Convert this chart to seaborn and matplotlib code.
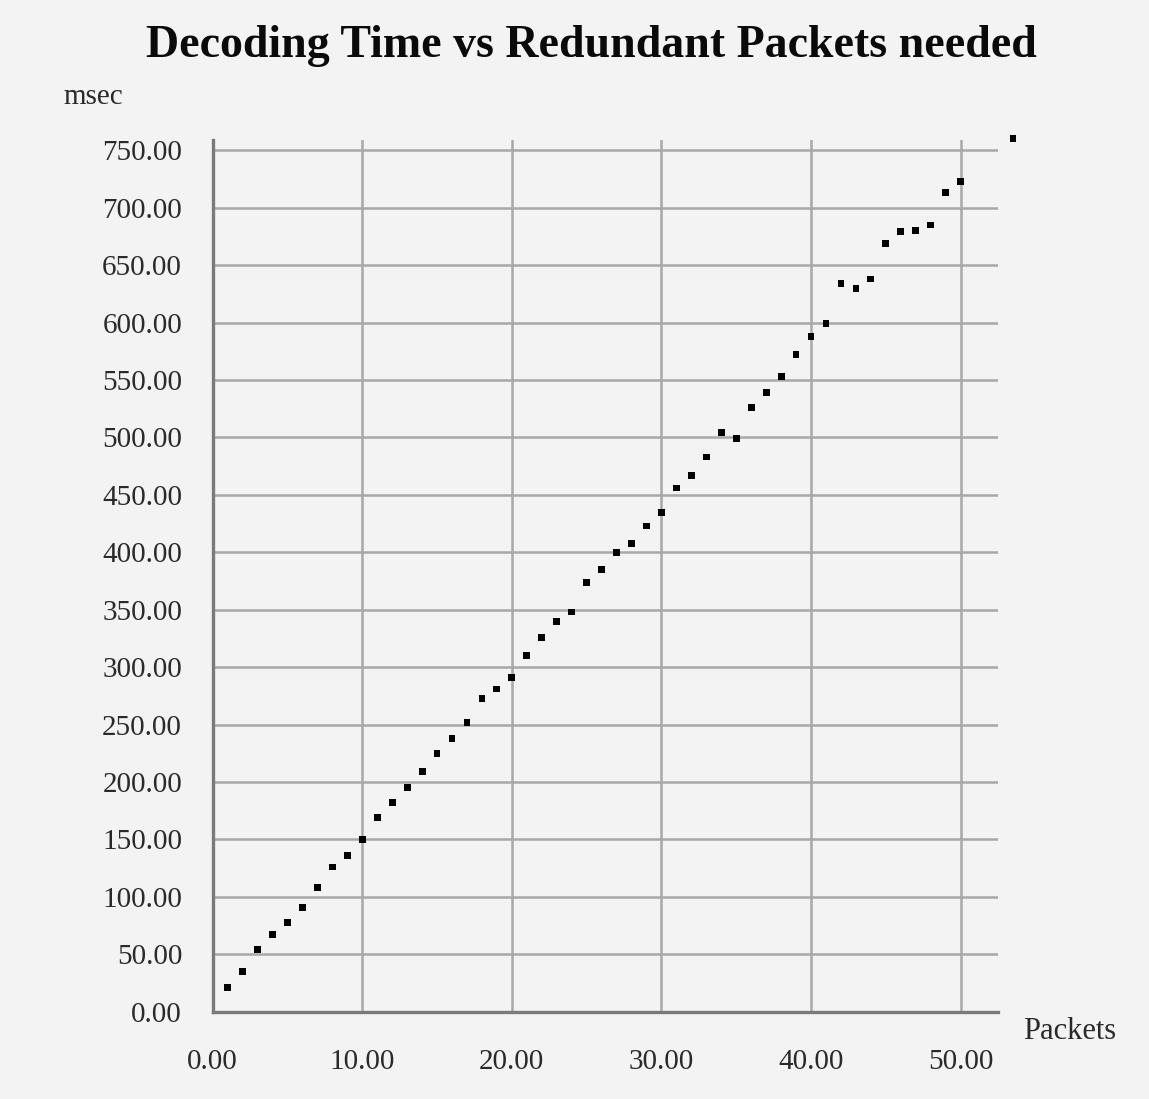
import seaborn as sns
import matplotlib.pyplot as plt
import pandas as pd

# Redundant packets needed vs decoding time (msec)
packets = list(range(1, 51)) + [53.5]
decode_ms = [
    21, 35, 54, 67, 78, 91, 108, 126, 136, 150,
    169, 182, 195, 209, 225, 238, 252, 273, 281, 291,
    310, 326, 340, 348, 374, 385, 400, 408, 423, 435,
    456, 467, 483, 504, 499, 526, 539, 553, 572, 588,
    599, 634, 630, 638, 669, 679, 680, 685, 713, 723,
    760,
]
x_ticks = [0, 10, 20, 30, 40, 50]
y_ticks = list(range(0, 751, 50))

df = pd.DataFrame({"packets": packets, "msec": decode_ms})

bg = "#f3f3f3"
grid_col = "#a8a8a8"
axis_col = "#7a7a7a"

sns.set_style("white")
plt.rcParams["font.family"] = ["Liberation Serif", "DejaVu Serif"]

fig = plt.figure(figsize=(11.49, 10.99), dpi=100, facecolor=bg)
ax = fig.add_axes([0.1851, 0.0794, 0.6835, 0.7932], facecolor=bg)

sns.scatterplot(data=df, x="packets", y="msec", ax=ax, marker="s", s=24,
                color="black", edgecolor="none", clip_on=False, zorder=5)

ax.set_xlim(0, 52.5)
ax.set_ylim(0, 759)
ax.set_xticks(x_ticks)
ax.set_yticks(y_ticks)
ax.set_xticklabels([f"{v:.2f}" for v in x_ticks])
ax.set_yticklabels([f"{v:.2f}" for v in y_ticks])
ax.grid(True, color=grid_col, linewidth=1.8)
ax.set_axisbelow(True)

for side in ["top", "right"]:
    ax.spines[side].set_visible(False)
for side in ["left", "bottom"]:
    ax.spines[side].set_color(axis_col)
    ax.spines[side].set_linewidth(2.4)

ax.tick_params(axis="y", length=13, width=1.8, color=grid_col, pad=9,
               labelsize=21, labelcolor="#2a2a2a")
ax.tick_params(axis="x", length=9.5, width=1.8, color=grid_col, pad=17,
               labelsize=21, labelcolor="#2a2a2a")
ax.set_xlabel("")
ax.set_ylabel("")

fig.text(0.515, 0.958, "Decoding Time vs Redundant Packets needed",
         ha="center", va="center", fontsize=33, fontweight="bold", color="#0a0a0a")
fig.text(0.0548, 0.9117, "msec", ha="left", va="center", fontsize=21, color="#2a2a2a")
fig.text(0.890, 0.061, "Packets", ha="left", va="center", fontsize=22, color="#2a2a2a")

fig.savefig("out.png", dpi=100, facecolor=bg)
